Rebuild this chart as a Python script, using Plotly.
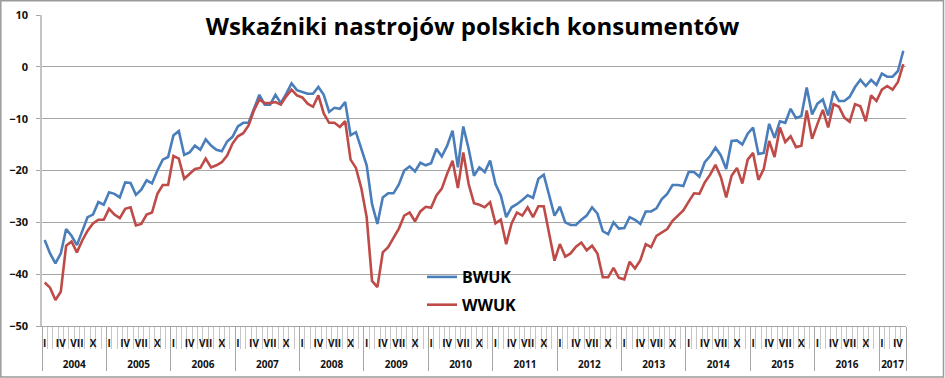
import plotly.graph_objects as go

# ---------------- data ----------------
years = list(range(2004, 2018))
month_roman = ["I", "", "", "IV", "", "", "VII", "", "", "X", "", ""]

bwuk = [
    -33.4, -36.0, -37.9, -36.0, -31.3, -32.6, -34.4, -31.6, -29.0, -28.5, -26.1, -26.6,
    -24.2, -24.5, -25.2, -22.3, -22.4, -24.7, -23.7, -21.9, -22.5, -20.0, -17.9, -17.4,
    -13.2, -12.4, -17.0, -16.5, -15.2, -16.0, -14.0, -15.2, -16.0, -16.3, -14.4, -13.5,
    -11.5, -10.8, -10.8, -8.1, -5.4, -7.3, -7.3, -5.4, -7.0, -5.2, -3.2, -4.5,
    -4.8, -5.2, -5.2, -3.9, -5.4, -8.7, -7.9, -8.1, -6.8, -13.2, -12.6, -15.8,
    -19.0, -26.5, -30.3, -25.2, -24.4, -24.4, -22.7, -20.0, -19.2, -20.2, -18.5, -19.0,
    -18.6, -15.8, -17.3, -15.2, -12.3, -19.4, -11.5, -15.8, -21.0, -19.4, -20.3, -18.1,
    -22.6, -24.8, -29.0, -27.1, -26.5, -25.7, -24.8, -25.3, -21.6, -20.8, -24.8, -28.7,
    -27.0, -30.0, -30.5, -30.5, -29.5, -28.7, -27.1, -28.3, -31.7, -32.3, -30.0, -31.2,
    -31.1, -29.0, -29.5, -30.3, -27.9, -27.9, -27.3, -25.5, -24.5, -22.8, -22.8, -23.0,
    -20.3, -20.3, -21.2, -18.4, -17.2, -15.6, -17.1, -19.7, -14.3, -14.2, -15.0, -12.9,
    -11.7, -16.8, -16.6, -11.0, -13.7, -10.5, -10.8, -8.1, -9.9, -9.5, -4.0, -9.2,
    -7.1, -6.3, -9.4, -4.7, -6.6, -6.6, -5.8, -3.9, -2.5, -3.7, -2.5, -3.5,
    -1.3, -1.9, -1.9, -0.8, 3.1,
]

wwuk = [
    -41.6, -42.6, -45.0, -43.4, -34.5, -33.7, -35.8, -33.5, -31.6, -30.2, -29.5, -29.5,
    -27.4, -28.5, -29.2, -27.4, -27.1, -30.6, -30.3, -28.5, -28.1, -24.5, -22.8, -22.8,
    -17.2, -17.7, -21.6, -20.6, -19.7, -19.5, -17.7, -19.4, -19.0, -18.4, -17.1, -14.8,
    -13.4, -12.8, -11.3, -8.4, -6.3, -7.0, -7.0, -6.8, -7.3, -5.7, -4.4, -5.5,
    -5.9, -7.1, -7.7, -5.5, -9.0, -10.8, -10.8, -11.6, -10.5, -17.9, -19.5, -23.4,
    -29.0, -41.3, -42.5, -35.8, -34.8, -33.0, -31.2, -28.7, -28.1, -29.8, -27.9, -27.0,
    -27.2, -24.8, -23.5, -20.6, -18.1, -23.4, -16.5, -22.6, -26.3, -26.6, -27.1, -26.1,
    -30.2, -29.5, -34.2, -30.2, -28.1, -28.7, -27.1, -29.0, -26.9, -26.9, -32.3, -37.4,
    -34.2, -36.6, -36.0, -34.7, -33.9, -35.4, -34.5, -36.0, -40.6, -40.6, -38.8, -40.7,
    -41.0, -37.6, -38.9, -37.3, -34.2, -34.8, -32.6, -31.9, -31.3, -29.7, -28.7, -27.7,
    -26.0, -24.4, -24.5, -22.3, -20.8, -18.9, -21.3, -25.2, -21.0, -19.5, -22.5, -17.9,
    -16.6, -21.8, -19.7, -14.3, -17.4, -11.7, -14.5, -13.4, -15.5, -15.2, -8.4, -13.9,
    -11.0, -8.3, -11.7, -7.2, -7.7, -9.8, -10.6, -7.2, -7.6, -10.5, -5.5, -6.6,
    -4.4, -3.7, -4.4, -2.9, 0.5,
]

y_ticks = [10, 0, -10, -20, -30, -40, -50]
title_text = "Wskaźniki nastrojów polskich konsumentów"

# ---------------- derived axis positions ----------------
n = len(bwuk)
xs = list(range(n))
month_lab = [month_roman[i % 12] for i in xs]
lab_vals = [i for i in xs if month_lab[i]]
lab_text = [month_lab[i] for i in lab_vals]
year_starts = [12 * (y - years[0]) for y in years]
year_ends = [min(s + 11, n - 1) for s in year_starts]
year_centers = [(s + e) / 2 for s, e in zip(year_starts, year_ends)]
year_bounds = [s - 0.5 for s in year_starts] + [n - 0.5]
month_bounds = [i - 0.5 for i in range(n + 1)]
xr = [-0.5, n - 0.5]

W, H = 945, 378
ML, MR, MT, MB = 42, 39, 15, 52
PW, PH = W - ML - MR, H - MT - MB


def pxx(px):
    return (px - ML) / PW


def pxy(py):
    return (H - MB - py) / PH


FONT = "Open Sans"
BLUE = "#4A7EBB"
RED = "#BE4B48"

fig = go.Figure()
fig.add_trace(go.Scatter(x=xs, y=bwuk, mode="lines", name="BWUK",
                         line=dict(color=BLUE, width=2.6), legendgroup="a"))
fig.add_trace(go.Scatter(x=xs, y=wwuk, mode="lines", name="WWUK",
                         line=dict(color=RED, width=2.6), legendgroup="b"))

ytickfont = dict(family=FONT, size=11, color="#111111", weight="bold")
xtickfont = dict(family=FONT, size=10, color="#111111", weight="bold")

fig.update_layout(
    width=W, height=H, autosize=False,
    margin=dict(l=ML, r=MR, t=MT, b=MB, autoexpand=False),
    paper_bgcolor="white", plot_bgcolor="white",
    title=dict(text=title_text, x=0.5, xref="container", xanchor="center",
               y=1 - 27 / H, yref="container", yanchor="middle", automargin=False,
               font=dict(family=FONT, size=24, color="black", weight="bold")),
    showlegend=True,
    legend=dict(x=pxx(422), y=pxy(260), xanchor="left", yanchor="top",
                font=dict(family=FONT, size=16, color="black", weight="bold"),
                bgcolor="rgba(0,0,0,0)", tracegroupgap=4, itemwidth=30),
    xaxis=dict(range=xr, tickmode="array", tickvals=month_bounds, ticks="outside",
               ticklen=22, tickcolor="#c6c6c6", tickwidth=1, showticklabels=False,
               showgrid=False, zeroline=False, showline=True, linecolor="#a6a6a6",
               linewidth=1, automargin=False),
    xaxis2=dict(range=xr, overlaying="x", anchor="y", side="bottom", tickmode="array",
                tickvals=lab_vals, ticktext=lab_text, ticks="outside", ticklen=8,
                tickcolor="rgba(0,0,0,0)", showgrid=False, zeroline=False,
                showline=False, tickfont=xtickfont, automargin=False),
    xaxis3=dict(range=xr, overlaying="x", anchor="y", side="bottom", tickmode="array",
                tickvals=year_centers, ticktext=[str(y) for y in years], ticks="outside",
                ticklen=29, tickcolor="rgba(0,0,0,0)", showgrid=False, zeroline=False,
                showline=False, tickfont=xtickfont, automargin=False),
    xaxis4=dict(range=xr, overlaying="x", anchor="y", side="bottom", tickmode="array",
                tickvals=year_bounds, ticks="outside", ticklen=44, tickcolor="#a6a6a6",
                tickwidth=1, showticklabels=False, showgrid=False, zeroline=False,
                showline=False, automargin=False),
    yaxis=dict(range=[y_ticks[-1], y_ticks[0]], tickmode="array", tickvals=y_ticks,
               ticks="outside", ticklen=4, tickcolor="#a6a6a6", showgrid=True,
               gridcolor="#a6a6a6", gridwidth=1, zeroline=False, showline=True,
               linecolor="#c4c4c4", linewidth=1.5, tickfont=ytickfont,
               ticklabelstandoff=6, automargin=False),
)

# invisible anchor traces so the overlay axes are drawn
for ax in ["x2", "x3", "x4"]:
    fig.add_trace(go.Scatter(x=[xs[0]], y=[y_ticks[0]], xaxis=ax, mode="markers",
                             marker=dict(opacity=0), showlegend=False, hoverinfo="skip"))

fig.add_shape(type="rect", xref="paper", yref="paper",
              x0=pxx(0.8), x1=pxx(943.5), y0=pxy(377), y1=pxy(0.8),
              line=dict(color="#9a9a9a", width=1.5), layer="below")

fig.write_html("out.html", config={"displayModeBar": False, "responsive": False},
               post_script="document.body.style.margin='0px';document.body.style.overflow='hidden';")
